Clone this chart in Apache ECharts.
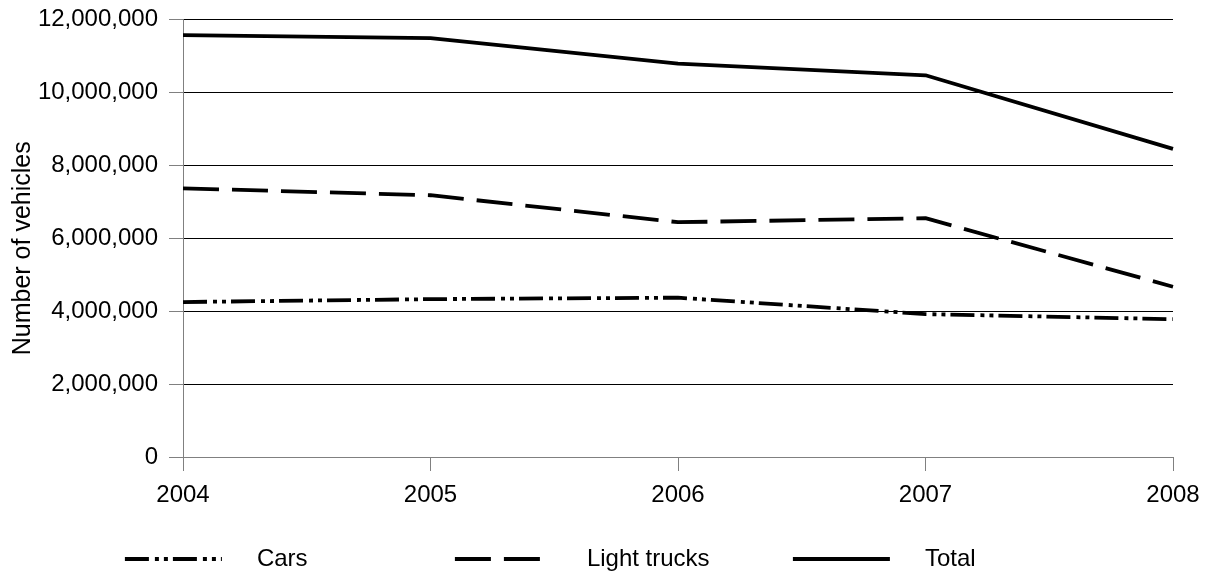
<!DOCTYPE html>
<html>
<head>
<meta charset="utf-8">
<script src="https://cdn.jsdelivr.net/npm/echarts@6/dist/echarts.min.js"></script>
<style>
html,body{margin:0;padding:0;background:#fff;}
#chart{width:1209px;height:575px;}
</style>
</head>
<body>
<div id="chart"></div>
<script>
var years = ['2004', '2005', '2006', '2007', '2008'];
var cars = [4250000, 4330000, 4370000, 3920000, 3780000];
var lightTrucks = [7370000, 7180000, 6440000, 6550000, 4670000];
var total = [11570000, 11490000, 10790000, 10470000, 8450000];
var yTicks = [0, 2000000, 4000000, 6000000, 8000000, 10000000, 12000000];

var FONT = '"Liberation Sans", Arial, sans-serif';
var chart = echarts.init(document.getElementById('chart'));

function legendFor(name, left) {
  return {
    data: [name],
    left: left,
    top: 547,
    itemWidth: 97,
    itemHeight: 14,
    padding: 0,
    itemStyle: {opacity: 0},
    lineStyle: {width: 3.8},
    textStyle: {fontFamily: FONT, fontSize: 24, color: '#000', padding: [0, 0, 0, 30]}
  };
}

chart.setOption({
  animation: false,
  backgroundColor: '#fff',
  grid: {left: 183, right: 36, top: 19.5, bottom: 118, containLabel: false, outerBoundsMode: 'none'},
  legend: [legendFor('Cars', 123), legendFor('Light trucks', 453), legendFor('Total', 791)],
  xAxis: {
    type: 'category',
    data: years,
    boundaryGap: false,
    axisLine: {lineStyle: {color: '#808080', width: 1}},
    axisTick: {show: true, length: 14, lineStyle: {color: '#808080'}},
    axisLabel: {fontFamily: FONT, fontSize: 24, color: '#000', margin: 26},
    splitLine: {show: false}
  },
  yAxis: {
    type: 'value',
    min: yTicks[0],
    max: yTicks[yTicks.length - 1],
    interval: yTicks[1] - yTicks[0],
    name: 'Number of vehicles',
    nameLocation: 'middle',
    nameRotate: 90,
    nameGap: 147,
    nameMoveOverlap: false,
    nameTextStyle: {fontFamily: FONT, fontSize: 25, color: '#000', padding: [0, 20, 0, 0]},
    axisLine: {show: true, lineStyle: {color: '#808080', width: 1}},
    axisTick: {show: true, length: 14, lineStyle: {color: '#808080'}},
    axisLabel: {
      fontFamily: FONT, fontSize: 24, color: '#000', margin: 25,
      formatter: function (v) { return v.toLocaleString('en-US'); }
    },
    splitLine: {show: true, lineStyle: {color: '#000', width: 1}}
  },
  series: [
    {
      name: 'Cars', type: 'line', data: cars, symbol: 'none',
      lineStyle: {color: '#000', width: 3.8, type: [24, 6, 4, 5, 4, 5]},
      itemStyle: {color: '#000'}
    },
    {
      name: 'Light trucks', type: 'line', data: lightTrucks, symbol: 'none',
      lineStyle: {color: '#000', width: 3.8, type: [36, 13]},
      itemStyle: {color: '#000'}
    },
    {
      name: 'Total', type: 'line', data: total, symbol: 'none',
      lineStyle: {color: '#000', width: 3.8, type: 'solid'},
      itemStyle: {color: '#000'}
    }
  ]
});
</script>
</body>
</html>
